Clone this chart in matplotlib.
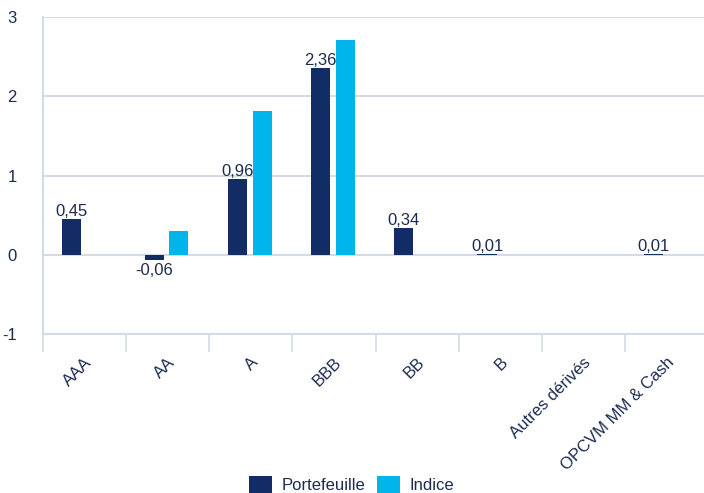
import matplotlib.pyplot as plt
import numpy as np

categories = ['AAA', 'AA', 'A', 'BBB', 'BB', 'B', 'Autres dérivés', 'OPCVM MM & Cash']
portefeuille = [0.45, -0.06, 0.96, 2.36, 0.34, 0.01, 0.0, 0.01]
indice = [0.0, 0.30, 1.82, 2.71, 0.0, 0.0, 0.0, 0.0]
labels_pf = ['0,45', '-0,06', '0,96', '2,36', '0,34', '0,01', None, '0,01']

navy = '#122c66'
cyan = '#00b5ec'
grid_c = '#d3dbe7'
text_c = '#1c2b50'

plt.rcParams['font.family'] = ['Liberation Sans', 'DejaVu Sans']

fig = plt.figure(figsize=(7.04, 4.93), dpi=100)
ax = fig.add_axes([0.061, 0.3225, 0.945, 0.643])

x = np.arange(len(categories))
w = 0.23
ax.bar(x - 0.16, portefeuille, w, color=navy, label='Portefeuille', zorder=3)
ax.bar(x + 0.135, indice, w, color=cyan, label='Indice', zorder=3)

for xi, v, lab in zip(x, portefeuille, labels_pf):
    if lab is None:
        continue
    if v < 0:
        ax.text(xi - 0.16, v - 0.04, lab, ha='center', va='top', fontsize=12, color=text_c, zorder=4)
    else:
        ax.text(xi - 0.16, v + 0.0, lab, ha='center', va='bottom', fontsize=12, color=text_c, zorder=4)

ax.set_xlim(-0.5, len(categories) - 0.5)
ax.set_ylim(-1, 3)
ax.set_yticks([-1, 0, 1, 2, 3])
ax.set_yticklabels(['-1', '0', '1', '2', '3'])
ax.yaxis.grid(True, color=grid_c, linewidth=1.5, zorder=0)
ax.tick_params(axis='y', length=0, pad=19, labelsize=12, labelcolor=text_c)

ax.set_xticks(x)
ax.set_xticklabels(categories, rotation=45, ha='right', rotation_mode='anchor',
                   fontsize=12, color=text_c)
ax.set_xticks(np.arange(len(categories) + 1) - 0.5, minor=True)
ax.tick_params(axis='x', which='major', length=0, pad=15)
ax.tick_params(axis='x', which='minor', length=13, width=1.2, color=grid_c)

for s in ['top', 'right']:
    ax.spines[s].set_visible(False)
ax.spines['left'].set_color(grid_c)
ax.spines['left'].set_linewidth(1.5)
ax.spines['bottom'].set_color(grid_c)
ax.spines['bottom'].set_linewidth(1.5)

fig.legend(loc='lower center', bbox_to_anchor=(0.5, -0.03), ncol=2, frameon=False,
           fontsize=12, handlelength=1.35, handleheight=1.2, columnspacing=0.7,
           handletextpad=0.6, labelcolor=text_c)

fig.savefig('out.png', dpi=100)
